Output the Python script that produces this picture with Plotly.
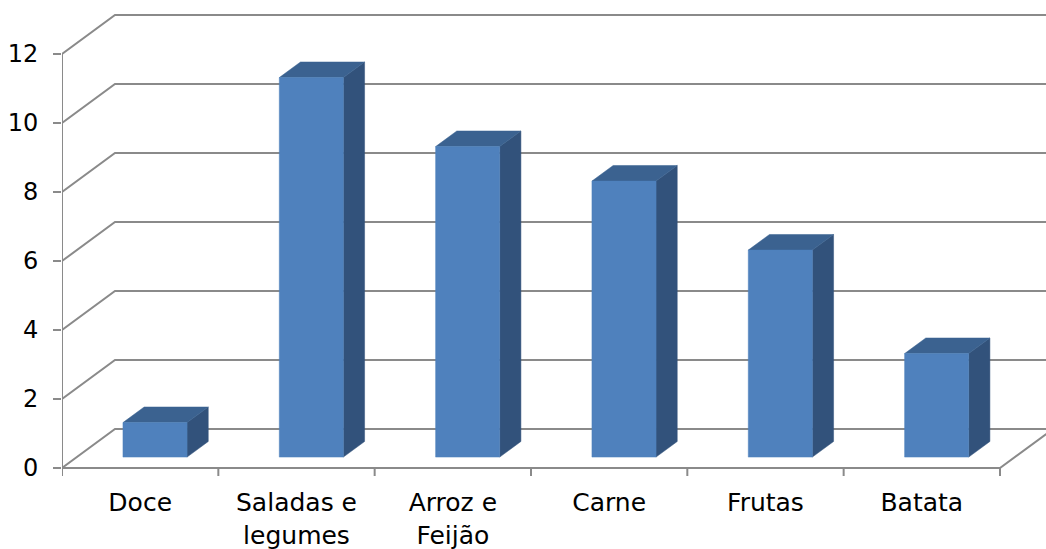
import plotly.graph_objects as go

# Data
categories = ["Doce", "Saladas e<br>legumes", "Arroz e<br>Feijão", "Carne", "Frutas", "Batata"]
values = [1, 11, 9, 8, 6, 3]
y_ticks = [0, 2, 4, 6, 8, 10, 12]

# Oblique projection used to fake the 3-D box (depth 0 = front, 1 = back wall)
DX = 0.339   # horizontal shift per unit of depth, in category units
DY = 1.13    # vertical shift per unit of depth, in value units
F_FRONT, F_BACK = 0.28, 0.68   # depth of the bar front / back faces
HALF_W = 0.205                 # half width of a bar front face

GRID = "#8a8a8a"
FRONT = "#4f81bd"
TOP = "#3b6290"
SIDE = "#32527b"
FONT = "DejaVu Sans"


def proj(x, v, d):
    return x + d * DX, v + d * DY


def poly(points):
    xs, ys = [], []
    for x, v, d in points:
        px, py = proj(x, v, d)
        xs.append(px)
        ys.append(py)
    xs.append(xs[0])
    ys.append(ys[0])
    return xs, ys


fig = go.Figure()

n = len(categories)
ymax = y_ticks[-1]

# Back wall gridlines and side-wall diagonals
gx, gy = [], []
for t in y_ticks:
    x0, y0 = proj(0, t, 0)
    x1, y1 = proj(0, t, 1)
    x2, y2 = proj(n, t, 1)
    gx += [x0, x1, x2, None]
    gy += [y0, y1, y2, None]
# floor: front edge and right edge
fx0, fy0 = proj(0, 0, 0)
fx1, fy1 = proj(n, 0, 0)
fx2, fy2 = proj(n, 0, 1)
gx += [fx0, fx1, fx2, None]
gy += [fy0, fy1, fy2, None]
# vertical value axis
gx += [0, 0, None]
gy += [0, ymax, None]
# category boundary ticks below the floor
tick_len = 8 / 34.5
for i in range(n + 1):
    gx += [i, i, None]
    gy += [0, -tick_len, None]

fig.add_trace(go.Scatter(x=gx, y=gy, mode="lines",
                         line=dict(color=GRID, width=2),
                         hoverinfo="skip", showlegend=False, cliponaxis=False))

# Bars: front, top and right side faces
faces = {"front": ([], []), "top": ([], []), "side": ([], [])}
for i, v in enumerate(values):
    c = i + 0.5
    l, r = c - HALF_W, c + HALF_W
    shapes = {
        "front": [(l, 0, F_FRONT), (r, 0, F_FRONT), (r, v, F_FRONT), (l, v, F_FRONT)],
        "top": [(l, v, F_FRONT), (r, v, F_FRONT), (r, v, F_BACK), (l, v, F_BACK)],
        "side": [(r, 0, F_FRONT), (r, 0, F_BACK), (r, v, F_BACK), (r, v, F_FRONT)],
    }
    for k, pts in shapes.items():
        xs, ys = poly(pts)
        faces[k][0].extend(xs + [None])
        faces[k][1].extend(ys + [None])

for k, col in (("side", SIDE), ("top", TOP), ("front", FRONT)):
    fig.add_trace(go.Scatter(x=faces[k][0], y=faces[k][1], mode="lines",
                             fill="toself", fillcolor=col,
                             line=dict(color=col, width=0.5),
                             hoverinfo="skip", showlegend=False))

PX_X = 156.33  # pixels per category
PX_Y = 34.5    # pixels per value unit
W, H = 1046, 549
L, B = 62, 72
fig.update_layout(
    width=W, height=H,
    margin=dict(l=L, r=0, t=0, b=B, autoexpand=False),
    paper_bgcolor="white", plot_bgcolor="white",
    font=dict(family=FONT, size=25, color="#000000"),
    xaxis=dict(range=[0, (W - L) / PX_X], showgrid=False, zeroline=False,
               showline=False, ticks="", automargin=False,
               tickmode="array", tickvals=[i + 0.5 for i in range(n)],
               ticktext=categories, ticklabelstandoff=8, fixedrange=True),
    yaxis=dict(range=[-(H - B - 468) / PX_Y, 468 / PX_Y], showgrid=False,
               zeroline=False, showline=False, automargin=False,
               tickmode="array", tickvals=y_ticks,
               ticktext=[str(t) for t in y_ticks],
               tickfont=dict(size=24),
               ticks="outside", ticklen=8, tickwidth=2, tickcolor=GRID,
               ticklabelstandoff=10, fixedrange=True),
)

fig.write_html("out.html")
